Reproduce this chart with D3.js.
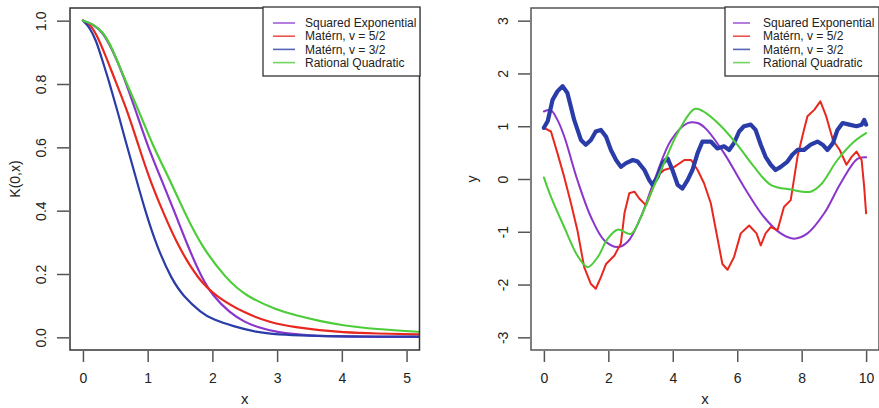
<!DOCTYPE html>
<html>
<head>
<meta charset="utf-8">
<script src="https://cdn.jsdelivr.net/npm/d3@7"></script>
<style>
    body { margin: 0; background: #fff; }
    svg { display: block; font-family: "Liberation Sans", Arial, sans-serif; }
</style>
</head>
<body>
<div id="chart"></div>
<script>
// ---- data ----
var seriesNames = ["Squared Exponential", "Matérn, v = 5/2", "Matérn, v = 3/2", "Rational Quadratic"];
var seriesColors = ["#8a35cc", "#e8281f", "#2a3ca8", "#4ccc38"];

// left panel: kernel K(0,x)
var leftXTicks = [0, 1, 2, 3, 4, 5];
var leftYTicks = [0.0, 0.2, 0.4, 0.6, 0.8, 1.0];
var kernelSE = [[0, 1], [0.15, 0.99], [0.31, 0.963], [0.45, 0.91], [0.62, 0.83], [0.825, 0.71], [1.0, 0.604], [1.21, 0.499],
    [1.42, 0.394], [1.62, 0.288], [1.83, 0.19], [2.01, 0.13], [2.27, 0.077], [2.5, 0.048], [2.68, 0.033], [3.0, 0.015],
    [3.5, 0.005], [4.0, 0.002], [5.3, 0.001]];
var kernelM52 = [[0, 1], [0.1, 0.99], [0.196, 0.963], [0.35, 0.89], [0.5, 0.81], [0.696, 0.71], [0.86, 0.604], [1.03, 0.499],
    [1.24, 0.394], [1.47, 0.288], [1.78, 0.183], [2.06, 0.128], [2.5, 0.076], [2.9, 0.046], [3.3, 0.031], [3.66, 0.022],
    [4.0, 0.016], [4.5, 0.012], [5.3, 0.009]];
var kernelM32 = [[0, 1], [0.1, 0.98], [0.2, 0.94], [0.3, 0.875], [0.4, 0.81], [0.54, 0.71], [0.68, 0.604], [0.825, 0.499],
    [0.97, 0.394], [1.14, 0.288], [1.37, 0.183], [1.55, 0.13], [1.83, 0.077], [2.01, 0.056], [2.32, 0.035], [2.68, 0.016],
    [3.0, 0.009], [3.5, 0.005], [4.0, 0.003], [5.3, 0.002]];
var kernelRQ = [[0, 1], [0.15, 0.99], [0.31, 0.965], [0.45, 0.915], [0.645, 0.815], [0.876, 0.71], [1.08, 0.604], [1.34, 0.499],
    [1.57, 0.394], [1.83, 0.288], [2.22, 0.183], [2.52, 0.13], [3.0, 0.086], [3.3, 0.069], [3.66, 0.051], [4.0, 0.038],
    [4.5, 0.026], [5.3, 0.016]];

// right panel: sample paths y(x)
var rightXTicks = [0, 2, 4, 6, 8, 10];
var rightYTicks = [-3, -2, -1, 0, 1, 2, 3];
var sampleSE = [[0, 1.28], [0.22, 1.3], [0.42, 1.12], [0.63, 0.81], [1.04, -0.02], [1.46, -0.72], [1.87, -1.16], [2.29, -1.29],
    [2.6, -1.19], [3.01, -0.72], [3.43, -0.02], [3.95, 0.74], [4.46, 1.06], [4.77, 1.06], [5.03, 0.95], [5.59, 0.49],
    [6.21, -0.15], [6.83, -0.72], [7.35, -1.03], [7.76, -1.13], [8.18, -1.03], [8.7, -0.65], [9.21, -0.08], [9.73, 0.38],
    [10, 0.41]];
var sampleM52 = [[0, 0.97], [0.22, 0.9], [0.42, 0.49], [0.63, 0.04], [0.84, -0.46], [1.04, -0.97], [1.25, -1.67], [1.46, -1.99],
    [1.61, -2.08], [1.77, -1.86], [1.93, -1.61], [2.19, -1.45], [2.39, -1.22], [2.5, -0.65], [2.65, -0.27], [2.81, -0.24],
    [2.96, -0.37], [3.17, -0.5], [3.32, -0.27], [3.48, 0.04], [3.73, 0.17], [4.05, 0.23], [4.36, 0.36], [4.57, 0.36],
    [4.77, 0.17], [4.97, -0.08], [5.18, -0.46], [5.38, -1.1], [5.54, -1.61], [5.7, -1.72], [5.9, -1.48], [6.11, -1.03],
    [6.37, -0.88], [6.6, -1.03], [6.73, -1.26], [6.88, -1.03], [7.04, -0.91], [7.25, -0.97], [7.45, -0.53], [7.66, -0.4],
    [7.87, 0.42], [8.07, 0.93], [8.18, 1.19], [8.39, 1.31], [8.58, 1.47], [8.76, 1.19], [8.97, 0.74], [9.18, 0.55],
    [9.39, 0.27], [9.55, 0.42], [9.7, 0.52], [9.86, 0.36], [9.94, -0.15], [10, -0.65]];
var sampleM32 = [[0, 0.97], [0.12, 1.1], [0.27, 1.5], [0.42, 1.66], [0.58, 1.76], [0.73, 1.63], [0.94, 1.12], [1.15, 0.74],
    [1.3, 0.65], [1.46, 0.74], [1.61, 0.9], [1.77, 0.93], [1.93, 0.8], [2.08, 0.55], [2.24, 0.36], [2.39, 0.23],
    [2.55, 0.3], [2.76, 0.36], [2.91, 0.33], [3.12, 0.17], [3.27, -0.02], [3.37, -0.11], [3.53, 0.04], [3.68, 0.3],
    [3.84, 0.39], [3.99, 0.17], [4.15, -0.11], [4.3, -0.18], [4.46, -0.02], [4.61, 0.17], [4.77, 0.49], [4.92, 0.71],
    [5.18, 0.71], [5.38, 0.58], [5.59, 0.62], [5.75, 0.55], [5.9, 0.68], [6.06, 0.9], [6.21, 1.0], [6.42, 1.03],
    [6.57, 0.93], [6.73, 0.65], [6.88, 0.42], [7.04, 0.27], [7.19, 0.17], [7.35, 0.23], [7.56, 0.33], [7.71, 0.46],
    [7.87, 0.55], [8.07, 0.55], [8.28, 0.65], [8.49, 0.71], [8.65, 0.65], [8.8, 0.55], [8.97, 0.68], [9.11, 0.93],
    [9.27, 1.06], [9.48, 1.03], [9.7, 1.0], [9.86, 1.03], [9.94, 1.12], [10, 1.03]];
var sampleRQ = [[0, 0.03], [0.22, -0.34], [0.63, -0.91], [1.04, -1.45], [1.36, -1.67], [1.67, -1.48], [1.98, -1.13],
    [2.29, -0.96], [2.7, -1.04], [3.01, -0.72], [3.32, -0.27], [3.73, 0.3], [4.15, 0.87], [4.69, 1.33], [5.03, 1.25],
    [5.5, 1.0], [6.0, 0.65], [6.5, 0.25], [7.04, -0.11], [7.66, -0.2], [8.28, -0.24], [8.59, -0.11], [9.11, 0.36],
    [9.63, 0.71], [10, 0.87]];

var width = 879, height = 408;
var svg = d3.select("#chart").append("svg").attr("width", width).attr("height", height);

function draw_panel(opt) {
    var x = d3.scaleLinear().domain(opt.xDomain).range([opt.left, opt.right]);
    var y = d3.scaleLinear().domain(opt.yDomain).range([opt.bottom, opt.top]);
    var g = svg.append("g");

    // clip so the curves stop at the box
    g.append("clipPath").attr("id", opt.id + "-clip")
        .append("rect")
        .attr("x", opt.left).attr("y", opt.top)
        .attr("width", opt.right - opt.left).attr("height", opt.bottom - opt.top);

    // curves
    var lines = g.append("g").attr("clip-path", "url(#" + opt.id + "-clip)");
    opt.series.forEach(function (s, i) {
        var line = d3.line()
            .x(function (d) { return x(d[0]); })
            .y(function (d) { return y(d[1]); })
            .curve(opt.curves[i]);
        lines.append("path")
            .datum(s)
            .attr("d", line)
            .attr("fill", "none")
            .attr("stroke", seriesColors[i])
            .attr("stroke-width", opt.widths[i])
            .attr("stroke-linejoin", "round")
            .attr("stroke-linecap", "round");
    });

    // box
    g.append("rect")
        .attr("x", opt.left).attr("y", opt.top)
        .attr("width", opt.right - opt.left).attr("height", opt.bottom - opt.top)
        .attr("fill", "none").attr("stroke", opt.boxColor).attr("stroke-width", 1.5);

    // x axis (R style: ticks below the box, no extra line)
    var xAxis = g.append("g")
        .attr("transform", "translate(0," + (opt.bottom + 1) + ")")
        .call(d3.axisBottom(x).tickValues(opt.xTicks).tickSize(11).tickPadding(11).tickFormat(d3.format("d")));
    xAxis.select(".domain").remove();
    xAxis.selectAll("line").attr("stroke", "#555").attr("stroke-width", 1.5);
    xAxis.selectAll("text").attr("font-size", 14).attr("fill", "#222").attr("font-family", null);

    // y axis, labels parallel to the axis
    var yAxis = g.append("g")
        .attr("transform", "translate(" + (opt.left - 1) + ",0)")
        .call(d3.axisLeft(y).tickValues(opt.yTicks).tickSize(12).tickFormat(opt.yFormat));
    yAxis.select(".domain").remove();
    yAxis.selectAll("line").attr("stroke", "#555").attr("stroke-width", 1.5);
    yAxis.selectAll("text")
        .attr("font-size", 14).attr("fill", "#222").attr("font-family", null)
        .attr("x", null).attr("dy", null)
        .attr("text-anchor", "middle")
        .attr("transform", "translate(" + (opt.yLabelX - opt.left + 1) + ",0) rotate(-90)");

    // axis titles
    g.append("text")
        .attr("x", (x(opt.xDomain[0]) + x(opt.xDomain[1])) / 2)
        .attr("y", 404)
        .attr("text-anchor", "middle").attr("font-size", 15).attr("fill", "#222")
        .text("x");
    g.append("text")
        .attr("transform", "translate(" + opt.titleX + "," + (opt.top + opt.bottom) / 2 + ") rotate(-90)")
        .attr("text-anchor", "middle").attr("font-size", 14).attr("fill", "#222")
        .text(opt.yTitle);

    // legend
    var lg = g.append("g");
    lg.append("rect")
        .attr("x", opt.legend.x0).attr("y", 7)
        .attr("width", opt.legend.x1 - opt.legend.x0).attr("height", 69)
        .attr("fill", "#fff").attr("stroke", "#333").attr("stroke-width", 1.3);
    var rows = lg.selectAll(".row").data(seriesNames).enter().append("g")
        .attr("transform", function (d, i) { return "translate(0," + (23 + i * 13.2) + ")"; });
    rows.append("line")
        .attr("x1", opt.legend.l0).attr("x2", opt.legend.l1)
        .attr("stroke", function (d, i) { return seriesColors[i]; })
        .attr("stroke-opacity", 0.8)
        .attr("stroke-width", 1.6);
    rows.append("text")
        .attr("x", opt.legend.t).attr("dy", "0.35em")
        .attr("font-size", 12).attr("fill", "#222")
        .text(function (d) { return d; });
}

// R prints a plain hyphen for negative numbers
var plainInt = function (d) { return d3.format("d")(d).replace("\u2212", "-"); };

// left panel: covariance functions
draw_panel({
    id: "left", left: 70, right: 419.5, top: 8, bottom: 350,
    xDomain: [-0.2, 5.2], yDomain: [-0.04, 1.04],
    xTicks: leftXTicks, yTicks: leftYTicks, yFormat: d3.format(".1f"),
    series: [kernelSE, kernelM52, kernelM32, kernelRQ],
    curves: [d3.curveBasis, d3.curveBasis, d3.curveBasis, d3.curveBasis],
    widths: [2.2, 2.2, 2.2, 2.2],
    boxColor: "#333", yLabelX: 46, titleX: 20, yTitle: "K(0,x)",
    legend: { x0: 263, x1: 420, l0: 273, l1: 295, t: 305 }
});

// right panel: sample paths
draw_panel({
    id: "right", left: 531, right: 879, top: 8, bottom: 350,
    xDomain: [-0.4, 10.4], yDomain: [-3.24, 3.24],
    xTicks: rightXTicks, yTicks: rightYTicks, yFormat: plainInt,
    series: [sampleSE, sampleM52, sampleM32, sampleRQ],
    curves: [d3.curveCatmullRom, d3.curveLinear, d3.curveLinear, d3.curveCatmullRom],
    widths: [2, 2, 4.2, 2],
    boxColor: "#555", yLabelX: 508, titleX: 477, yTitle: "y",
    legend: { x0: 725, x1: 879, l0: 733, l1: 750, t: 763 }
});
</script>
</body>
</html>
